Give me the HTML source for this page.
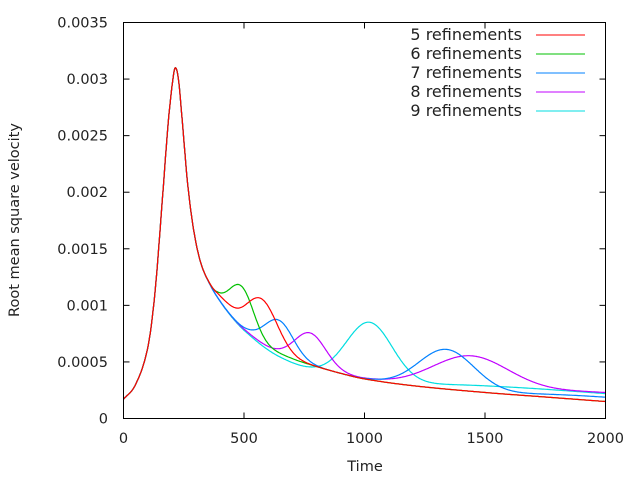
<!DOCTYPE html>
<html><head><meta charset="utf-8"><style>
body{margin:0;background:#fff}
svg{display:block}
text{font-family:"DejaVu Sans","Liberation Sans",sans-serif;font-size:14.5px;fill:#222}
.lg{font-size:16px}
</style></head><body>
<svg id="s" width="640" height="480" xmlns="http://www.w3.org/2000/svg">
<rect x="0" y="0" width="640" height="480" fill="#fff"/>
<g id="ax"></g>
<g id="cv" fill="none" stroke-width="1.2"></g>
<rect x="123.5" y="22.5" width="482" height="396" fill="none" stroke="#000" stroke-width="1"/>
<text x="365" y="471" text-anchor="middle">Time</text>
<text transform="translate(19,220) rotate(-90)" text-anchor="middle">Root mean square velocity</text>
<g text-anchor="end" class="lg">
<text class="lg" x="522" y="40">5 refinements</text>
<text class="lg" x="522" y="59">6 refinements</text>
<text class="lg" x="522" y="78">7 refinements</text>
<text class="lg" x="522" y="97">8 refinements</text>
<text class="lg" x="522" y="116">9 refinements</text>
</g>
<g stroke-width="1">
<line x1="536" x2="585" y1="35" y2="35" stroke="#ff0000"/>
<line x1="536" x2="585" y1="54" y2="54" stroke="#00c000"/>
<line x1="536" x2="585" y1="73" y2="73" stroke="#0080ff"/>
<line x1="536" x2="585" y1="92" y2="92" stroke="#c000ff"/>
<line x1="536" x2="585" y1="111" y2="111" stroke="#00dde0"/>
</g>
</svg>
<script>
var X0=123.5,X1=605.5,Y0=418.5,Y1=22.5;
function px(t){return X0+(X1-X0)*t/2000}
function py(v){return Y0-(Y0-Y1)*v/0.0035}
var ax=document.getElementById('ax'),h='';
for(var i=0;i<=4;i++){var x=px(i*500);h+='<line x1="'+x+'" x2="'+x+'" y1="418.5" y2="412.5" stroke="#000"/><line x1="'+x+'" x2="'+x+'" y1="22.5" y2="28.5" stroke="#000"/><text x="'+x+'" y="443" text-anchor="middle">'+(i*500)+'</text>';}
var yl=['0','0.0005','0.001','0.0015','0.002','0.0025','0.003','0.0035'];
for(var j=0;j<8;j++){var y=py(j*0.0005);h+='<line x1="123.5" x2="129.5" y1="'+y+'" y2="'+y+'" stroke="#000"/><line x1="605.5" x2="599.5" y1="'+y+'" y2="'+y+'" stroke="#000"/><text x="108" y="'+(y+5)+'" text-anchor="end">'+yl[j]+'</text>';}
ax.innerHTML=h;
var T=[[0,0.00017],[50,0.0003],[100,0.00062],[130,0.0011],[160,0.0019],[185,0.0026],[205,0.003],[215,0.0031],[228,0.003],[245,0.0026],[265,0.0021],[290,0.00168],[320,0.00138],[360,0.00118],[400,0.00104],[450,0.0009],[500,0.00079],[600,0.00063],[700,0.00053],[800,0.00046],[900,0.0004],[1000,0.00035],[1200,0.00029],[1500,0.00023],[1750,0.00019],[2000,0.00015]];
function base(t){var n=T.length;for(var k=1;k<n;k++){if(t<=T[k][0]){var p0=T[Math.max(k-2,0)],p1=T[k-1],p2=T[k],p3=T[Math.min(k+1,n-1)];var dt=p2[0]-p1[0],f=(t-p1[0])/dt;
var m1=(p2[1]-p0[1])/(p2[0]-p0[0]||1)*dt,m2=(p3[1]-p1[1])/(p3[0]-p1[0]||1)*dt;
var f2=f*f,f3=f2*f;return (2*f3-3*f2+1)*p1[1]+(f3-2*f2+f)*m1+(-2*f3+3*f2)*p2[1]+(f3-f2)*m2}}return T[n-1][1]}
function g(t,c,a,s){return a*Math.exp(-(t-c)*(t-c)/(2*s*s))}
function sig(t,c,w){return 1/(1+Math.exp(-(t-c)/w))}
var S=[
['#00dde0',function(t){return g(t,1020,0.00051,95)+0.00007*sig(t,1300,120)-0.00004*g(t,750,1,150)}],
['#c000ff',function(t){return g(t,775,0.00028,65)+g(t,1440,0.0003,160)+0.00009*sig(t,1700,150)}],
['#0080ff',function(t){return g(t,645,0.00029,60)+g(t,1340,0.00035,115)+0.00004*sig(t,1700,100)}],
['#00c000',function(t){return g(t,490,0.00036,50)}],
['#ff0000',function(t){return g(t,575,0.00039,65)+0.00004*g(t,420,1,40)}]
];
var cv=document.getElementById('cv'),o='';
S.forEach(function(s){var d='';for(var t=0;t<=2000;t+=3){var v=base(t)+(t>330?s[1](t)*Math.min(1,(t-330)/60):0);d+=(t?'L':'M')+px(t).toFixed(1)+','+py(v).toFixed(1)}o+='<path d="'+d+'" stroke="'+s[0]+'"/>'});
cv.innerHTML=o;
</script>
</body></html>
